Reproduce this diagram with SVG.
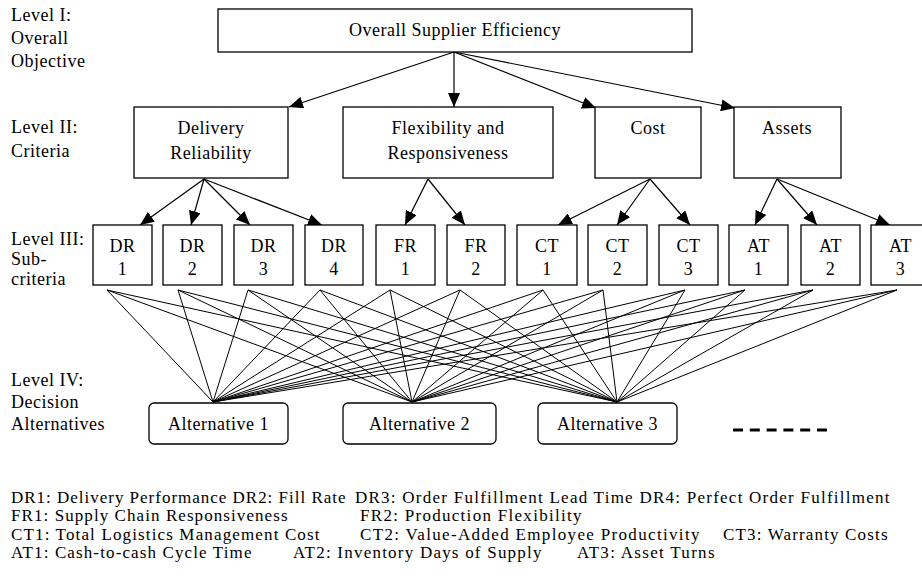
<svg xmlns="http://www.w3.org/2000/svg" width="922" height="583" viewBox="0 0 922 583">
<style>
text{font-family:'Liberation Serif',serif;font-size:18px;fill:#000;letter-spacing:0.5px}
.c{text-anchor:middle}
.lg{font-size:17px}
.box{fill:#fff;stroke:#000;stroke-width:1.3}
.ln{stroke:#000;stroke-width:1;fill:none}
.ar{stroke:#000;stroke-width:1.2;fill:none;marker-end:url(#ah)}
</style>
<defs>
<marker id="ah" markerUnits="userSpaceOnUse" markerWidth="16" markerHeight="12" refX="14" refY="6" orient="auto">
<path d="M0,0 L14,6 L0,12 z" fill="#000"/>
</marker>
</defs>
<rect width="922" height="583" fill="#fff"/>
<g id="level-labels">
<text x="11" y="21">Level I:</text>
<text x="11" y="44">Overall</text>
<text x="11" y="67">Objective</text>
<text x="11" y="133">Level II:</text>
<text x="11" y="157">Criteria</text>
<text x="11" y="245">Level III:</text>
<text x="11" y="265">Sub-</text>
<text x="11" y="285">criteria</text>
<text x="11" y="386">Level IV:</text>
<text x="11" y="408">Decision</text>
<text x="11" y="430">Alternatives</text>
</g>
<g id="connectors">
<line class="ar" x1="454" y1="52" x2="289" y2="107"/>
<line class="ar" x1="454" y1="52" x2="454" y2="107"/>
<line class="ar" x1="454" y1="52" x2="596" y2="108"/>
<line class="ar" x1="454" y1="52" x2="735" y2="108"/>
<line class="ar" x1="204" y1="179" x2="140" y2="225"/>
<line class="ar" x1="204" y1="179" x2="191" y2="225"/>
<line class="ar" x1="204" y1="179" x2="250" y2="225"/>
<line class="ar" x1="204" y1="179" x2="322" y2="225"/>
<line class="ar" x1="428" y1="179" x2="405" y2="225"/>
<line class="ar" x1="428" y1="179" x2="465" y2="225"/>
<line class="ar" x1="650" y1="179" x2="558" y2="225"/>
<line class="ar" x1="650" y1="179" x2="617" y2="225"/>
<line class="ar" x1="650" y1="179" x2="690" y2="225"/>
<line class="ar" x1="777" y1="179" x2="755" y2="225"/>
<line class="ar" x1="777" y1="179" x2="817" y2="225"/>
<line class="ar" x1="777" y1="179" x2="890" y2="225"/>
<path class="ln" d="M107,290L213,402M107,290L412,402M107,290L617,402
M178,290L213,402M178,290L412,402M178,290L617,402
M248,290L213,402M248,290L412,402M248,290L617,402
M320,290L213,402M320,290L412,402M320,290L617,402
M390,290L213,402M390,290L412,402M390,290L617,402
M460,290L213,402M460,290L412,402M460,290L617,402
M543,290L213,402M543,290L412,402M543,290L617,402
M603,290L213,402M603,290L412,402M603,290L617,402
M685,290L213,402M685,290L412,402M685,290L617,402
M745,290L213,402M745,290L412,402M745,290L617,402
M813,290L213,402M813,290L412,402M813,290L617,402
M897,290L213,402M897,290L412,402M897,290L617,402"/>
</g>
<g id="n-overall"><rect class="box" x="218" y="9" width="474" height="43"/><text class="c" x="455" y="36">Overall Supplier Efficiency</text></g>
<g id="n-delivery"><rect class="box" x="134" y="107" width="154" height="71"/><text class="c" x="211" y="134">Delivery</text><text class="c" x="211" y="159">Reliability</text></g>
<g id="n-flex"><rect class="box" x="343" y="107" width="210" height="71"/><text class="c" x="448" y="134">Flexibility and</text><text class="c" x="448" y="159">Responsiveness</text></g>
<g id="n-cost"><rect class="box" x="595" y="107" width="106" height="71"/><text class="c" x="648" y="134">Cost</text></g>
<g id="n-assets"><rect class="box" x="734" y="107" width="107" height="71"/><text class="c" x="787" y="134">Assets</text></g>
<g id="n-dr1"><rect class="box" x="93" y="225" width="59" height="60"/><text class="c" x="122.5" y="252">DR</text><text class="c" x="122.5" y="275">1</text></g>
<g id="n-dr2"><rect class="box" x="163" y="225" width="59" height="60"/><text class="c" x="192.5" y="252">DR</text><text class="c" x="192.5" y="275">2</text></g>
<g id="n-dr3"><rect class="box" x="234" y="225" width="59" height="60"/><text class="c" x="263.5" y="252">DR</text><text class="c" x="263.5" y="275">3</text></g>
<g id="n-dr4"><rect class="box" x="305" y="225" width="58" height="60"/><text class="c" x="334" y="252">DR</text><text class="c" x="334" y="275">4</text></g>
<g id="n-fr1"><rect class="box" x="376" y="225" width="59" height="60"/><text class="c" x="405.5" y="252">FR</text><text class="c" x="405.5" y="275">1</text></g>
<g id="n-fr2"><rect class="box" x="447" y="225" width="58" height="60"/><text class="c" x="476" y="252">FR</text><text class="c" x="476" y="275">2</text></g>
<g id="n-ct1"><rect class="box" x="517" y="225" width="60" height="60"/><text class="c" x="547" y="252">CT</text><text class="c" x="547" y="275">1</text></g>
<g id="n-ct2"><rect class="box" x="588" y="225" width="59" height="60"/><text class="c" x="617.5" y="252">CT</text><text class="c" x="617.5" y="275">2</text></g>
<g id="n-ct3"><rect class="box" x="659" y="225" width="59" height="60"/><text class="c" x="688.5" y="252">CT</text><text class="c" x="688.5" y="275">3</text></g>
<g id="n-at1"><rect class="box" x="729" y="225" width="59" height="60"/><text class="c" x="758.5" y="252">AT</text><text class="c" x="758.5" y="275">1</text></g>
<g id="n-at2"><rect class="box" x="801" y="225" width="59" height="60"/><text class="c" x="830.5" y="252">AT</text><text class="c" x="830.5" y="275">2</text></g>
<g id="n-at3"><rect class="box" x="871" y="225" width="59" height="60"/><text class="c" x="900.5" y="252">AT</text><text class="c" x="900.5" y="275">3</text></g>
<g id="n-alt1"><rect class="box" x="149" y="403" width="139" height="41" rx="5"/><text class="c" x="218.5" y="430">Alternative 1</text></g>
<g id="n-alt2"><rect class="box" x="343" y="403" width="153" height="41" rx="5"/><text class="c" x="419.5" y="430">Alternative 2</text></g>
<g id="n-alt3"><rect class="box" x="538" y="403" width="139" height="41" rx="5"/><text class="c" x="607.5" y="430">Alternative 3</text></g>
<g id="n-more"><line x1="733" y1="430" x2="827" y2="430" stroke="#000" stroke-width="3" stroke-dasharray="10 6.8"/></g>
<g id="legend">
<text class="lg" x="11" y="503" textLength="335" lengthAdjust="spacing">DR1: Delivery Performance DR2: Fill Rate</text>
<text class="lg" x="355" y="503" textLength="535" lengthAdjust="spacing">DR3: Order Fulfillment Lead Time DR4: Perfect Order Fulfillment</text>
<text class="lg" x="11" y="521" textLength="277" lengthAdjust="spacing">FR1: Supply Chain Responsiveness</text>
<text class="lg" x="360" y="521" textLength="222" lengthAdjust="spacing">FR2: Production Flexibility</text>
<text class="lg" x="11" y="540" textLength="309" lengthAdjust="spacing">CT1: Total Logistics Management Cost</text>
<text class="lg" x="360" y="540" textLength="340" lengthAdjust="spacing">CT2: Value-Added Employee Productivity</text>
<text class="lg" x="723" y="540" textLength="165" lengthAdjust="spacing">CT3: Warranty Costs</text>
<text class="lg" x="11" y="558" textLength="241" lengthAdjust="spacing">AT1: Cash-to-cash Cycle Time</text>
<text class="lg" x="293" y="558" textLength="249" lengthAdjust="spacing">AT2: Inventory Days of Supply</text>
<text class="lg" x="577" y="558" textLength="138" lengthAdjust="spacing">AT3: Asset Turns</text>
</g>
</svg>
